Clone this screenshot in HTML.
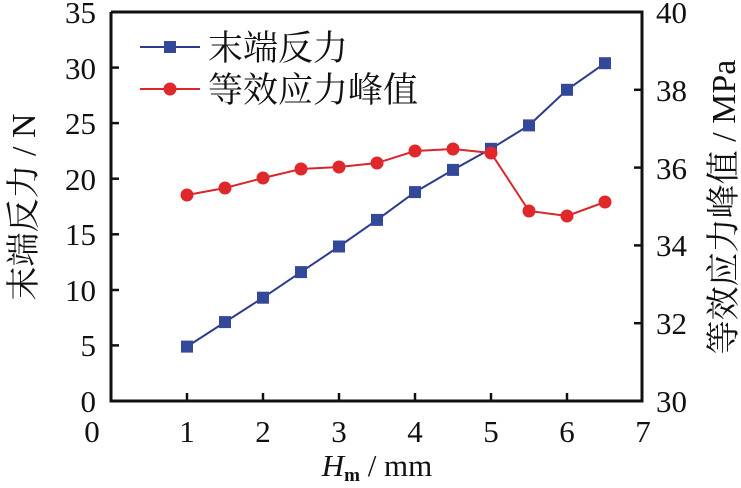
<!DOCTYPE html>
<html><head><meta charset="utf-8"><style>
html,body{margin:0;padding:0;background:#fff;}
text{font-family:"Liberation Serif","Noto Serif CJK SC",serif;fill:#111;}
</style></head><body>
<svg width="741" height="483" viewBox="0 0 741 483" xmlns="http://www.w3.org/2000/svg">
<rect width="741" height="483" fill="#fff"/>
<g stroke="#111" stroke-width="3" fill="none">
<polyline points="111,12 111,401 642,401 642,12 111,12"/>
</g>
<g stroke="#111" stroke-width="2.5">
<line x1="111" y1="345.4" x2="119" y2="345.4"/><line x1="111" y1="290" x2="119" y2="290"/>
<line x1="111" y1="234.3" x2="119" y2="234.3"/><line x1="111" y1="178.7" x2="119" y2="178.7"/>
<line x1="111" y1="123.1" x2="119" y2="123.1"/><line x1="111" y1="67.6" x2="119" y2="67.6"/>
<line x1="187" y1="401" x2="187" y2="393"/><line x1="263" y1="401" x2="263" y2="393"/>
<line x1="339" y1="401" x2="339" y2="393"/><line x1="415" y1="401" x2="415" y2="393"/>
<line x1="491" y1="401" x2="491" y2="393"/><line x1="567" y1="401" x2="567" y2="393"/>
<line x1="642" y1="323.2" x2="634" y2="323.2"/><line x1="642" y1="245.4" x2="634" y2="245.4"/>
<line x1="642" y1="167.6" x2="634" y2="167.6"/><line x1="642" y1="89.8" x2="634" y2="89.8"/>
</g>
<g font-size="31" text-anchor="end">
<text x="96" y="412">0</text><text x="96" y="356">5</text><text x="96" y="301">10</text>
<text x="96" y="245">15</text><text x="96" y="190">20</text><text x="96" y="134">25</text>
<text x="96" y="79">30</text><text x="96" y="23">35</text>
</g>
<g font-size="31">
<text x="656" y="412">30</text><text x="656" y="334">32</text><text x="656" y="256">34</text>
<text x="656" y="179">36</text><text x="656" y="101">38</text><text x="656" y="23">40</text>
</g>
<g font-size="31" text-anchor="middle">
<text x="92" y="442">0</text><text x="187" y="442">1</text><text x="263" y="442">2</text>
<text x="339" y="442">3</text><text x="415" y="442">4</text><text x="491" y="442">5</text>
<text x="567" y="442">6</text><text x="643" y="442">7</text>
</g>
<text x="377" y="476" font-size="31" text-anchor="middle"><tspan font-style="italic">H</tspan><tspan font-size="19" dy="5" font-weight="bold">m</tspan><tspan dy="-5"> / mm</tspan></text>
<text transform="translate(35,207) rotate(-90)" font-size="34" text-anchor="middle">末端反力 / N</text>
<text transform="translate(735,207) rotate(-90)" font-size="34" text-anchor="middle">等效应力峰值 / MPa</text>
<polyline fill="none" stroke="#2e3b8c" stroke-width="2" points="187,346.6 225,322.1 263,297.7 301,272.1 339,246.5 377,219.9 415,192.1 453,169.9 491,148.8 529,125.4 567,89.8 605,63.2"/>
<g fill="#34489a">
<rect x="181" y="340.6" width="12" height="12"/><rect x="219" y="316.1" width="12" height="12"/>
<rect x="257" y="291.7" width="12" height="12"/><rect x="295" y="266.1" width="12" height="12"/>
<rect x="333" y="240.5" width="12" height="12"/><rect x="371" y="213.9" width="12" height="12"/>
<rect x="409" y="186.1" width="12" height="12"/><rect x="447" y="163.9" width="12" height="12"/>
<rect x="485" y="142.8" width="12" height="12"/><rect x="523" y="119.4" width="12" height="12"/>
<rect x="561" y="83.8" width="12" height="12"/><rect x="599" y="57.2" width="12" height="12"/>
</g>
<polyline fill="none" stroke="#d9262a" stroke-width="2" points="187,195 225,188 263,178 301,169 339,167 377,163 415,151 453,149 491,153 529,211 567,216 605,202"/>
<g fill="#e0282c">
<circle cx="187" cy="195" r="6.5"/><circle cx="225" cy="188" r="6.5"/><circle cx="263" cy="178" r="6.5"/>
<circle cx="301" cy="169" r="6.5"/><circle cx="339" cy="167" r="6.5"/><circle cx="377" cy="163" r="6.5"/>
<circle cx="415" cy="151" r="6.5"/><circle cx="453" cy="149" r="6.5"/><circle cx="491" cy="153" r="6.5"/>
<circle cx="529" cy="211" r="6.5"/><circle cx="567" cy="216" r="6.5"/><circle cx="605" cy="202" r="6.5"/>
</g>
<line x1="140" y1="47" x2="200" y2="47" stroke="#2e3b8c" stroke-width="2"/>
<rect x="164" y="41" width="12" height="12" fill="#34489a"/>
<line x1="140" y1="89" x2="200" y2="89" stroke="#d9262a" stroke-width="2"/>
<circle cx="170" cy="89" r="6.5" fill="#e0282c"/>
<text x="208" y="60" font-size="35">末端反力</text>
<text x="208" y="102" font-size="35">等效应力峰值</text>
</svg>
</body></html>
